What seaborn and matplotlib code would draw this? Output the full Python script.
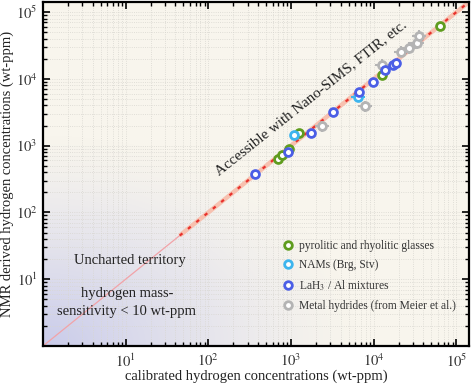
import numpy as np
import pandas as pd
import matplotlib
matplotlib.use("Agg")
import matplotlib.pyplot as plt
import seaborn as sns
from matplotlib.lines import Line2D
from matplotlib.ticker import FixedLocator, LogLocator, NullFormatter, FuncFormatter

# ---------------- data ----------------
glass_x = [703, 780, 950, 1250, 12700, 63000]
glass_y = [640, 735, 900, 1550, 11450, 63000]

nam_x = [1090, 6440]
nam_y = [1450, 5440]
nam_err = [False, True]

lah_x = [368, 910, 1720, 3240, 6650, 9800, 13800, 17000, 18600]
lah_y = [382, 795, 1550, 3150, 6440, 8900, 13500, 16200, 17500]

metal_x = [2350, 7780, 12600, 21600, 27000, 33000, 35500]
metal_y = [1950, 3870, 16200, 25500, 29000, 34000, 43600]

groups = ["pyrolitic and rhyolitic glasses", "NAMs (Brg, Stv)",
          "LaH$_3$ / Al mixtures", "Metal hydrides (from Meier et al.)"]
colors = ["#5f9c1e", "#3db5ee", "#4b5ee6", "#b4b4b4"]

major_ticks = [1e1, 1e2, 1e3, 1e4, 1e5]

# ---------------- style ----------------
sns.set_theme(style="white")
plt.rcParams["font.family"] = ["Liberation Serif", "DejaVu Serif"]
plt.rcParams["mathtext.fontset"] = "stix"

fig = plt.figure(figsize=(4.74, 3.87), dpi=100)
ax = fig.add_axes([0.0907, 0.106, 0.8987, 0.889])
ax.set_xscale("log")
ax.set_yscale("log")
xmin, xmax = 1.0, 1.42e5
ax.set_xlim(xmin, xmax)
ax.set_ylim(xmin, xmax)
ax.set_facecolor("#f8f5ed")

# gradient (lower-left bluish)
n = 300
u, v = np.meshgrid(np.linspace(0, 1, n), np.linspace(0, 1, n))
r = np.sqrt((u / 0.75) ** 2 + (v / 0.62) ** 2)
alpha = np.clip(1 - r, 0, 1) ** 1.3 * 0.85
img = np.zeros((n, n, 4))
img[..., 0] = 0.76
img[..., 1] = 0.77
img[..., 2] = 0.92
img[..., 3] = alpha
ax.imshow(img, extent=[0, 1, 0, 1], transform=ax.transAxes, origin="lower",
          aspect="auto", zorder=0, interpolation="bilinear")

# grid
ax.grid(True, which="both", color="#d8d6d0", linestyle=":", linewidth=0.6, zorder=0.5)

# diagonal line
ax.plot([xmin, xmax], [xmin, xmax], color="#f2a3a8", lw=0.9, zorder=1)
ax.plot([45, xmax], [45, xmax], color="#f7c1b0", lw=3.2, zorder=1.1, solid_capstyle="butt")
ax.plot([45, xmax], [45, xmax], color="#e8312c", lw=1.6, ls=(0, (1.6, 3.2)), zorder=1.2)

# error bars
def ebars(xs, ys, col, mask=None):
    for i, (x, y) in enumerate(zip(xs, ys)):
        if mask is not None and not mask[i]:
            continue
        ax.errorbar([x], [y], xerr=[[x * 0.18], [x * 0.22]], yerr=[[y * 0.18], [y * 0.22]],
                    fmt="none", ecolor=col, elinewidth=1.5, capsize=0, zorder=2)

ebars(metal_x, metal_y, colors[3])
ebars(nam_x, nam_y, colors[1], nam_err)

df = pd.concat([
    pd.DataFrame({"x": metal_x, "y": metal_y, "g": groups[3]}),
    pd.DataFrame({"x": glass_x, "y": glass_y, "g": groups[0]}),
    pd.DataFrame({"x": nam_x, "y": nam_y, "g": groups[1]}),
    pd.DataFrame({"x": lah_x, "y": lah_y, "g": groups[2]}),
])
for gname, col in zip([groups[3], groups[0], groups[1], groups[2]],
                      [colors[3], colors[0], colors[1], colors[2]]):
    sub = df[df.g == gname]
    sns.scatterplot(data=sub, x="x", y="y", ax=ax, s=32, facecolor="white",
                    edgecolor=col, linewidth=2.0, legend=False, zorder=3)

# ticks
ax.xaxis.set_major_locator(FixedLocator(major_ticks))
ax.yaxis.set_major_locator(FixedLocator(major_ticks))
ax.xaxis.set_minor_locator(LogLocator(base=10, subs=np.arange(2, 10), numticks=20))
ax.yaxis.set_minor_locator(LogLocator(base=10, subs=np.arange(2, 10), numticks=20))
fmt = FuncFormatter(lambda v, p: r"$10^{%d}$" % round(np.log10(v)))
ax.xaxis.set_major_formatter(fmt)
ax.yaxis.set_major_formatter(fmt)
ax.xaxis.set_minor_formatter(NullFormatter())
ax.yaxis.set_minor_formatter(NullFormatter())
ax.tick_params(which="both", direction="in", top=True, right=True, bottom=True, left=True,
               colors="black", labelcolor="#333333")
ax.tick_params(which="major", length=5, width=1.2, labelsize=10.5)
ax.tick_params(axis="x", which="major", pad=4.5)
ax.tick_params(axis="y", which="major", pad=4)
ax.tick_params(which="minor", length=2.8, width=1.0)
for sp in ax.spines.values():
    sp.set_color("black")
    sp.set_linewidth(1.6)

ax.set_xlabel("calibrated hydrogen concentrations (wt-ppm)", fontsize=10.5, color="#222222", labelpad=0)
ax.set_ylabel("NMR derived hydrogen concentrations (wt-ppm)", fontsize=10.5, color="#222222", labelpad=1)

# annotations
ax.text(1740, 5200, "Accessible with Nano-SIMS, FTIR, etc.", rotation=38.5,
        rotation_mode="anchor", ha="center", va="center", fontsize=10.8, color="#222222", zorder=4)
ax.text(0.205, 0.247, "Uncharted territory", transform=ax.transAxes, ha="center", va="center",
        fontsize=10.5, color="#222222")
ax.text(0.197, 0.127, "hydrogen mass-\nsensitivity < 10 wt-ppm", transform=ax.transAxes,
        ha="center", va="center", fontsize=10.5, color="#222222", linespacing=1.5)

# legend
handles = [Line2D([], [], ls="none", marker="o", markersize=5.5, markerfacecolor="white",
                  markeredgecolor=c, markeredgewidth=2.0) for c in colors]
leg = ax.legend(handles, groups, loc="upper left", bbox_to_anchor=(0.548, 0.322),
                frameon=False, fontsize=8.3, handletextpad=0.35, labelspacing=0.62,
                handlelength=1.2, borderaxespad=0)
for t in leg.get_texts():
    t.set_color("#333333")

fig.savefig("out.png", dpi=100, facecolor="white")
